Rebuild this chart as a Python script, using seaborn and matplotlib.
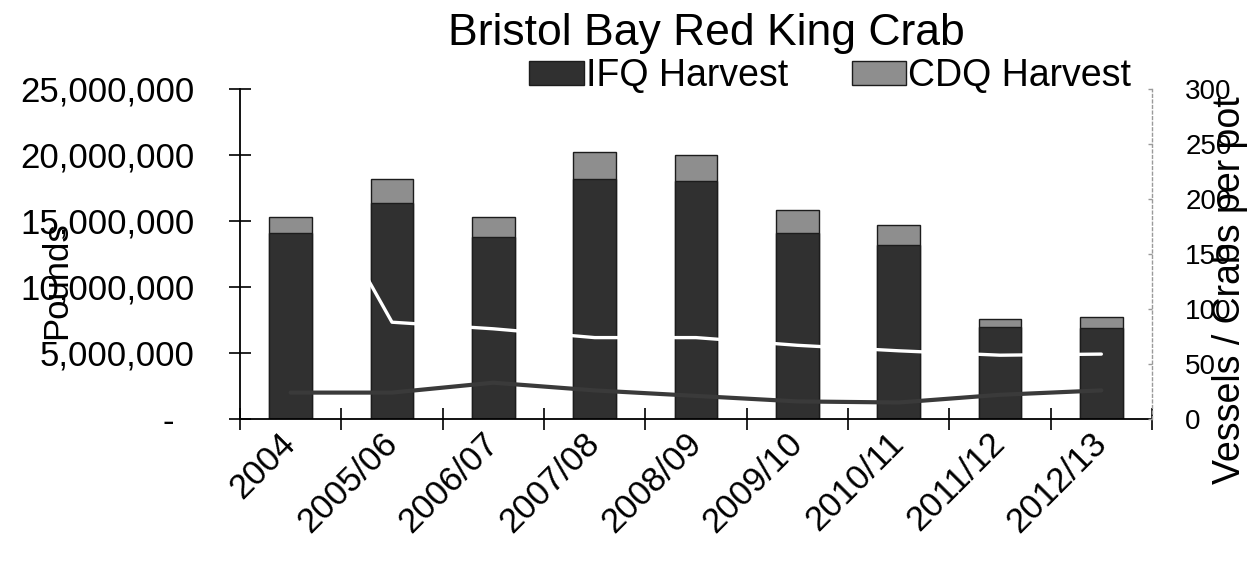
import numpy as np
import pandas as pd
import matplotlib
matplotlib.use("Agg")
import matplotlib.pyplot as plt
from matplotlib.ticker import FuncFormatter, FixedLocator
import seaborn as sns

# ---------------- data ----------------
seasons = ['2004', '2005/06', '2006/07', '2007/08', '2008/09',
           '2009/10', '2010/11', '2011/12', '2012/13']
ifq_harvest = [14.1e6, 16.4e6, 13.8e6, 18.2e6, 18.0e6, 14.1e6, 13.2e6, 7.0e6, 6.9e6]
cdq_harvest = [1.2e6, 1.8e6, 1.5e6, 2.0e6, 2.0e6, 1.7e6, 1.5e6, 0.6e6, 0.8e6]
vessels = [252, 88, 82, 74, 74, 67, 62, 58, 59]
crabs_per_pot = [24, 24, 33, 26, 21, 16, 15, 22, 26]

left_ticks = [0, 5e6, 10e6, 15e6, 20e6, 25e6]
right_ticks = [0, 50, 100, 150, 200, 250, 300]

df = pd.DataFrame({
    'season': seasons,
    'ifq': ifq_harvest,
    'total': np.array(ifq_harvest) + np.array(cdq_harvest),
    'vessels': vessels,
    'cpue': crabs_per_pot,
})

# ---------------- style ----------------
sns.set_style('white')
plt.rcParams['font.family'] = ['Liberation Sans', 'DejaVu Sans']
plt.rcParams['text.color'] = 'black'
plt.rcParams['xtick.color'] = 'black'
plt.rcParams['ytick.color'] = 'black'
plt.rcParams['axes.labelcolor'] = 'black'

W, H, DPI = 1255, 573, 100
fig = plt.figure(figsize=(W / DPI, H / DPI), dpi=DPI)
ax = fig.add_axes([240 / W, 1 - 419 / H, (1152 - 240) / W, (419 - 89) / H])

IFQ_C = '#303030'
CDQ_C = '#8e8e8e'

sns.barplot(data=df, x='season', y='total', order=seasons, color=CDQ_C,
            width=0.42, edgecolor='#1c1c1c', linewidth=1.0,
            saturation=1, ax=ax, zorder=2)
sns.barplot(data=df, x='season', y='ifq', order=seasons, color=IFQ_C,
            width=0.42, edgecolor='#1c1c1c', linewidth=1.0,
            saturation=1, ax=ax, zorder=2)
cdq_handle = ax.containers[0]
ifq_handle = ax.containers[1]

ax.set_ylim(0, 25e6)
ax.set_xlim(-0.5, len(seasons) - 0.5)

ax2 = ax.twinx()
sns.pointplot(data=df, x='season', y='cpue', order=seasons, color='#3a3a3a',
              marker='', linestyle='-', linewidth=3.0, errorbar=None,
              ax=ax2, zorder=3)
sns.pointplot(data=df, x='season', y='vessels', order=seasons, color='white',
              marker='', linestyle='-', linewidth=2.4, errorbar=None,
              ax=ax2, zorder=4)
ax2.set_ylim(0, 300)
ax2.set_xlim(-0.5, len(seasons) - 0.5)
ax2.set_ylabel('')
ax2.set_xlabel('')

# ---------------- axes ----------------
ax.set_xlabel('')
ax.set_ylabel('')
for s in ['top', 'right']:
    ax.spines[s].set_visible(False)
ax.spines['left'].set_color('black')
ax.spines['bottom'].set_color('black')
ax.spines['left'].set_linewidth(1.3)
ax.spines['bottom'].set_linewidth(1.3)

ax.yaxis.set_major_locator(FixedLocator(left_ticks))
ax.yaxis.set_major_formatter(FuncFormatter(
    lambda v, p: '-  ' if v == 0 else f'{v:,.0f}'))
ax.tick_params(axis='y', which='major', direction='inout', length=16,
               width=1.2, color='black', labelsize=25, pad=25, left=True,
               labelcolor='black')

ax.set_xticks(range(len(seasons)))
ax.set_xticklabels(seasons)
ax.set_xticks(np.arange(-0.5, len(seasons), 1.0), minor=True)
ax.tick_params(axis='x', which='major', length=0, labelsize=25, pad=14,
               labelcolor='black')
ax.tick_params(axis='x', which='minor', direction='inout', length=16,
               width=1.2, color='black', bottom=True)
for lab in ax.get_xticklabels():
    lab.set_rotation(45)
    lab.set_ha('right')
    lab.set_va('center')
    lab.set_rotation_mode('anchor')

for s in ['top', 'left', 'bottom']:
    ax2.spines[s].set_visible(False)
ax2.spines['right'].set_color('#9a9a9a')
ax2.spines['right'].set_linestyle((0, (2, 2)))
ax2.spines['right'].set_linewidth(1.0)
ax2.yaxis.set_major_locator(FixedLocator(right_ticks))
ax2.tick_params(axis='y', which='major', direction='in', length=3,
                width=1, color='#9a9a9a', labelsize=20, pad=24, right=True,
                labelcolor='black')

ax.grid(False)
ax2.grid(False)
ax.set_facecolor('white')

# ---------------- text ----------------
fig.text(706 / W, 1 - 33 / H, 'Bristol Bay Red King Crab', fontsize=32,
         ha='center', va='center', color='black')
fig.text(57 / W, 1 - 280 / H, 'Pounds', fontsize=25, rotation=90,
         ha='center', va='center', color='black')
fig.text(1230 / W, 1 - 290 / H, 'Vessels / Crabs per pot', fontsize=27,
         rotation=90, ha='center', va='center', color='black')

leg = fig.legend(handles=[ifq_handle, cdq_handle],
                 labels=['IFQ Harvest', 'CDQ Harvest'],
                 loc='center', bbox_to_anchor=(830 / W, 1 - 76 / H), ncol=2,
                 frameon=False, fontsize=27, handlelength=1.45, handleheight=0.6,
                 handletextpad=0.05, columnspacing=1.7, borderpad=0)
for t in leg.get_texts():
    t.set_color('black')

fig.savefig('out.png', dpi=DPI, facecolor='white')
